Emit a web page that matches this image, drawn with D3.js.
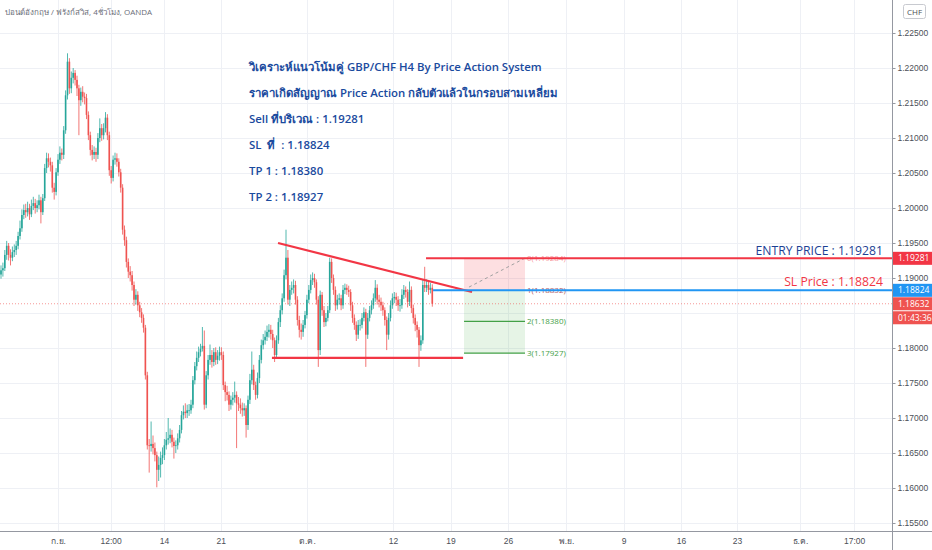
<!DOCTYPE html>
<html>
<head>
<meta charset="utf-8">
<script src="https://cdn.jsdelivr.net/npm/d3@7"></script>
<style>
  body { margin: 0; background: #fff; }
  svg { display: block; font-family: "Open Sans", "Noto Sans", "DejaVu Sans", sans-serif; }
  .grid line { stroke: #eef0f5; stroke-width: 1; }
  .axis path, .axis line { stroke: #9598a1; }
  .axis text { fill: #4c4f57; font-size: 8.5px; }
  .note { fill: #1a4a9e; font-size: 11.4px; font-weight: 600; white-space: pre; }
</style>
</head>
<body>
<div id="chart"></div>
<script>
// GBP/CHF 4h candles (bar 0 = first visible bar)
var firstOpen = 1.1905;
var candleCloses = [
  1.1911,1.1914,1.1933,1.1946,1.1933,1.1929,1.1937,1.1940,1.1946,1.1960,
  1.1971,1.1990,1.1997,1.1994,1.2000,1.1991,1.2003,1.2007,1.2000,1.2004,
  1.2011,1.1994,1.2014,1.2057,1.2071,1.2066,1.2061,1.2029,1.2023,1.2051,
  1.2069,1.2079,1.2076,1.2111,1.2161,1.2209,1.2171,1.2186,1.2193,1.2183,
  1.2171,1.2154,1.2166,1.2159,1.2157,1.2133,1.2104,1.2083,1.2076,1.2080,
  1.2076,1.2100,1.2114,1.2104,1.2114,1.2129,1.2104,1.2054,1.2043,1.2069,
  1.2071,1.2066,1.2051,1.2029,1.1969,1.1954,1.1923,1.1909,1.1904,1.1890,
  1.1869,1.1876,1.1861,1.1851,1.1843,1.1829,1.1761,1.1661,1.1660,1.1663,
  1.1657,1.1647,1.1626,1.1633,1.1643,1.1647,1.1661,1.1669,1.1671,1.1676,
  1.1666,1.1660,1.1661,1.1671,1.1683,1.1704,1.1709,1.1707,1.1711,1.1711,
  1.1719,1.1754,1.1774,1.1786,1.1794,1.1799,1.1803,1.1719,1.1761,1.1783,
  1.1790,1.1780,1.1794,1.1783,1.1789,1.1794,1.1790,1.1747,1.1737,1.1733,
  1.1719,1.1726,1.1729,1.1733,1.1721,1.1719,1.1714,1.1711,1.1714,1.1690,
  1.1726,1.1754,1.1769,1.1747,1.1733,1.1757,1.1783,1.1804,1.1811,1.1816,
  1.1823,1.1826,1.1820,1.1811,1.1790,1.1811,1.1837,1.1854,1.1871,1.1904,
  1.1929,1.1869,1.1883,1.1886,1.1890,1.1869,1.1840,1.1826,1.1823,1.1833,
  1.1847,1.1869,1.1883,1.1897,1.1900,1.1894,1.1869,1.1797,1.1876,1.1854,
  1.1837,1.1843,1.1854,1.1923,1.1900,1.1883,1.1861,1.1869,1.1871,1.1861,
  1.1883,1.1886,1.1883,1.1880,1.1861,1.1843,1.1833,1.1819,1.1833,1.1833,
  1.1843,1.1851,1.1819,1.1843,1.1854,1.1861,1.1871,1.1886,1.1869,1.1866,
  1.1861,1.1854,1.1840,1.1819,1.1843,1.1861,1.1871,1.1873,1.1869,1.1861,
  1.1861,1.1876,1.1883,1.1880,1.1866,1.1883,1.1857,1.1843,1.1833,1.1826,
  1.1804,1.1811,1.1890,1.1886,1.1890,1.1883,1.1886,1.18632
];
var candleHighs = [
  1.1918,1.1922,1.1940,1.1953,1.1950,1.1941,1.1945,1.1948,1.1953,1.1966,
  1.1982,1.1998,1.2005,1.2006,1.2009,1.2006,1.2012,1.2016,1.2013,1.2011,
  1.2019,1.2016,1.2020,1.2063,1.2079,1.2078,1.2072,1.2066,1.2036,1.2057,
  1.2077,1.2088,1.2085,1.2117,1.2168,1.2221,1.2214,1.2195,1.2200,1.2197,
  1.2189,1.2176,1.2172,1.2174,1.2165,1.2163,1.2138,1.2109,1.2090,1.2088,
  1.2086,1.2107,1.2128,1.2120,1.2121,1.2137,1.2134,1.2109,1.2060,1.2075,
  1.2079,1.2078,1.2071,1.2056,1.2034,1.1975,1.1959,1.1928,1.1917,1.1910,
  1.1895,1.1884,1.1881,1.1866,1.1857,1.1848,1.1833,1.1766,1.1670,1.1695,
  1.1675,1.1665,1.1652,1.1645,1.1652,1.1658,1.1670,1.1680,1.1700,1.1685,
  1.1683,1.1672,1.1668,1.1678,1.1690,1.1710,1.1718,1.1721,1.1719,1.1720,
  1.1726,1.1760,1.1780,1.1795,1.1802,1.1806,1.1830,1.1825,1.1767,1.1790,
  1.1805,1.1797,1.1800,1.1801,1.1797,1.1802,1.1801,1.1795,1.1752,1.1746,
  1.1738,1.1732,1.1737,1.1752,1.1738,1.1730,1.1728,1.1722,1.1721,1.1718,
  1.1732,1.1763,1.1795,1.1776,1.1752,1.1765,1.1790,1.1812,1.1820,1.1825,
  1.1832,1.1834,1.1833,1.1826,1.1815,1.1818,1.1843,1.1861,1.1878,1.1912,
  1.1969,1.1940,1.1890,1.1895,1.1898,1.1896,1.1874,1.1846,1.1835,1.1840,
  1.1853,1.1876,1.1890,1.1905,1.1908,1.1906,1.1898,1.1874,1.1882,1.1880,
  1.1860,1.1850,1.1860,1.1929,1.1928,1.1905,1.1888,1.1876,1.1878,1.1876,
  1.1890,1.1892,1.1891,1.1889,1.1884,1.1866,1.1848,1.1838,1.1840,1.1841,
  1.1850,1.1858,1.1856,1.1850,1.1860,1.1868,1.1878,1.1897,1.1891,1.1876,
  1.1872,1.1866,1.1858,1.1845,1.1850,1.1868,1.1878,1.1880,1.1879,1.1874,
  1.1870,1.1884,1.1890,1.1888,1.1884,1.1895,1.1888,1.1862,1.1848,1.1838,
  1.1830,1.1818,1.1898,1.1916,1.1898,1.1896,1.1893,1.1891
];
var candleLows = [
  1.1899,1.1902,1.1910,1.1926,1.1925,1.1918,1.1924,1.1930,1.1933,1.1941,
  1.1955,1.1966,1.1984,1.1986,1.1988,1.1983,1.1987,1.1997,1.1992,1.1994,
  1.1998,1.1978,1.1990,1.2010,1.2050,1.2058,1.2052,1.2022,1.2012,1.2018,
  1.2046,1.2063,1.2068,1.2070,1.2106,1.2155,1.2163,1.2164,1.2178,1.2175,
  1.2160,1.2104,1.2146,1.2151,1.2148,1.2127,1.2097,1.2075,1.2068,1.2070,
  1.2066,1.2070,1.2094,1.2096,1.2098,1.2108,1.2097,1.2046,1.2035,1.2038,
  1.2062,1.2059,1.2045,1.2022,1.1962,1.1946,1.1915,1.1900,1.1895,1.1882,
  1.1860,1.1862,1.1853,1.1844,1.1836,1.1822,1.1755,1.1655,1.1622,1.1652,
  1.1648,1.1638,1.1601,1.1610,1.1615,1.1634,1.1640,1.1655,1.1662,1.1664,
  1.1658,1.1642,1.1650,1.1655,1.1665,1.1678,1.1698,1.1700,1.1700,1.1703,
  1.1706,1.1714,1.1748,1.1768,1.1780,1.1788,1.1795,1.1712,1.1714,1.1755,
  1.1776,1.1772,1.1774,1.1776,1.1777,1.1782,1.1783,1.1740,1.1724,1.1725,
  1.1710,1.1712,1.1718,1.1722,1.1657,1.1710,1.1706,1.1702,1.1703,1.1672,
  1.1683,1.1720,1.1748,1.1740,1.1726,1.1728,1.1750,1.1778,1.1798,1.1805,
  1.1810,1.1815,1.1812,1.1800,1.1780,1.1785,1.1806,1.1830,1.1848,1.1866,
  1.1898,1.1862,1.1860,1.1876,1.1878,1.1862,1.1832,1.1815,1.1812,1.1816,
  1.1828,1.1842,1.1864,1.1878,1.1890,1.1886,1.1862,1.1773,1.1790,1.1846,
  1.1830,1.1831,1.1838,1.1850,1.1893,1.1876,1.1853,1.1855,1.1862,1.1854,
  1.1856,1.1877,1.1876,1.1873,1.1853,1.1836,1.1826,1.1810,1.1813,1.1825,
  1.1828,1.1838,1.1773,1.1813,1.1838,1.1848,1.1856,1.1866,1.1862,1.1858,
  1.1853,1.1846,1.1832,1.1797,1.1812,1.1838,1.1856,1.1864,1.1860,1.1853,
  1.1852,1.1856,1.1870,1.1872,1.1858,1.1860,1.1850,1.1835,1.1824,1.1815,
  1.1773,1.1796,1.1806,1.1880,1.1880,1.1876,1.1878,1.1859
];

// price grid values, and the ones that get a label (1.185 sits under the tags)
var priceTicks = [1.155, 1.16, 1.165, 1.17, 1.175, 1.18, 1.185, 1.19, 1.195, 1.20, 1.205, 1.21, 1.215, 1.22, 1.225];
var priceLabelTicks = [1.155, 1.16, 1.165, 1.17, 1.175, 1.18, 1.19, 1.195, 1.20, 1.205, 1.21, 1.215, 1.22, 1.225];
// time axis ticks (placed in bar units)
var timeTickLabels = ["ก.ย.", "12:00", "14", "21", "ต.ค.", "12", "19", "26", "พ.ย.", "9", "16", "23", "ธ.ค.", "17:00"];
var timeTickBars = [30, 57.7, 85.8, 115.6, 161, 206.3, 236.6, 266.8, 297.4, 327.7, 357.9, 387.4, 420.5, 449];

// trade levels
var entryPrice = 1.19281;
var slPrice = 1.18824;
var lastPrice = 1.18632;
var countdown = "01:43:36";
var fibLevels = [1.19284, 1.18832, 1.18380, 1.17927];
var fibNames = ["0", "1", "2", "3"];

// drawings: [bar, price] end points
var triangleTop = [[145.8, 1.1950], [247.9, 1.1880]];
var triangleBottom = [[142.6, 1.1786], [243.2, 1.1786]];
var fibBars = [243.7, 275.8];
var fibTrend = [[246.3, 1.1887], [275.8, 1.19284]];
var entryStartBar = 223.7;
var slStartBar = 227.4;

var titleText = "ปอนด์อังกฤษ / ฟรังก์สวิส, 4ชั่วโมง, OANDA";
var noteLines = [
  "วิเคราะห์แนวโน้มคู่ GBP/CHF H4 By Price Action System",
  "ราคาเกิดสัญญาณ Price Action กลับตัวแล้วในกรอบสามเหลี่ยม",
  "Sell ที่บริเวณ : 1.19281",
  "SL  ที่  : 1.18824",
  "TP 1 : 1.18380",
  "TP 2 : 1.18927"
];

var width = 932, height = 550,
    plotW = 892, plotH = 531;

var svg = d3.select("#chart").append("svg")
    .attr("width", width)
    .attr("height", height);

// scales
var x = d3.scaleLinear().domain([0, 469]).range([1, 1 + 1.9 * 469]);
var y = d3.scaleLinear().domain([1.155, 1.225]).range([523, 33]);

// grid
var grid = svg.append("g").attr("class", "grid");
grid.selectAll(".h").data(priceTicks).enter().append("line")
    .attr("x1", 0).attr("x2", plotW)
    .attr("y1", function(d) { return Math.round(y(d)) + 0.5; })
    .attr("y2", function(d) { return Math.round(y(d)) + 0.5; });
grid.selectAll(".v").data(timeTickBars).enter().append("line")
    .attr("y1", 0).attr("y2", plotH)
    .attr("x1", function(d) { return Math.round(x(d)) + 0.5; })
    .attr("x2", function(d) { return Math.round(x(d)) + 0.5; });

// build candle table
var candles = candleCloses.map(function(c, i) {
  return {
    i: i,
    o: i == 0 ? firstOpen : candleCloses[i - 1],
    h: candleHighs[i],
    l: candleLows[i],
    c: c
  };
});
var upColor = "#26a69a", downColor = "#ef5350";

// fib / risk box behind candles
var fib = svg.append("g");
fib.append("rect")
    .attr("x", x(fibBars[0])).attr("width", x(fibBars[1]) - x(fibBars[0]))
    .attr("y", y(fibLevels[0])).attr("height", y(fibLevels[1]) - y(fibLevels[0]))
    .attr("fill", "rgba(242,54,69,0.16)");
fib.append("rect")
    .attr("x", x(fibBars[0])).attr("width", x(fibBars[1]) - x(fibBars[0]))
    .attr("y", y(fibLevels[1])).attr("height", y(fibLevels[3]) - y(fibLevels[1]))
    .attr("fill", "rgba(76,175,80,0.14)");
fib.selectAll(".fl").data(fibLevels.slice(2)).enter().append("line")
    .attr("x1", x(fibBars[0])).attr("x2", x(fibBars[1]))
    .attr("y1", function(d) { return y(d); }).attr("y2", function(d) { return y(d); })
    .attr("stroke", "#43a047").attr("stroke-width", 1.2);
fib.append("line")
    .attr("x1", x(fibTrend[0][0])).attr("y1", y(fibTrend[0][1]))
    .attr("x2", x(fibTrend[1][0])).attr("y2", y(fibTrend[1][1]))
    .attr("stroke", "#a0a0a0").attr("stroke-width", 1).attr("stroke-dasharray", "3,3");

// current price dotted line
svg.append("line")
    .attr("x1", 0).attr("x2", plotW)
    .attr("y1", y(lastPrice)).attr("y2", y(lastPrice))
    .attr("stroke", "#ef5350").attr("stroke-opacity", 0.6)
    .attr("stroke-dasharray", "1,2");

// candles
var cg = svg.append("g");
cg.selectAll(".wick").data(candles).enter().append("line")
    .attr("x1", function(d) { return x(d.i); })
    .attr("x2", function(d) { return x(d.i); })
    .attr("y1", function(d) { return y(d.h); })
    .attr("y2", function(d) { return y(d.l); })
    .attr("stroke", function(d) { return d.c >= d.o ? upColor : downColor; })
    .attr("stroke-width", 0.8);
cg.selectAll(".body").data(candles).enter().append("rect")
    .attr("x", function(d) { return x(d.i) - 0.8; })
    .attr("width", 1.6)
    .attr("y", function(d) { return y(Math.max(d.o, d.c)); })
    .attr("height", function(d) { return Math.max(0.8, Math.abs(y(d.o) - y(d.c))); })
    .attr("fill", function(d) { return d.c >= d.o ? upColor : downColor; });

// triangle lines
var line = d3.line()
    .x(function(d) { return x(d[0]); })
    .y(function(d) { return y(d[1]); });
svg.selectAll(".tri").data([triangleTop, triangleBottom]).enter().append("path")
    .attr("d", line)
    .attr("fill", "none")
    .attr("stroke", "#f23645")
    .attr("stroke-width", 2.2);

// entry and stop lines
svg.append("line")
    .attr("x1", x(entryStartBar)).attr("x2", plotW)
    .attr("y1", y(entryPrice)).attr("y2", y(entryPrice))
    .attr("stroke", "#f23645").attr("stroke-width", 2);
svg.append("line")
    .attr("x1", x(slStartBar)).attr("x2", plotW)
    .attr("y1", y(slPrice)).attr("y2", y(slPrice))
    .attr("stroke", "#2196f3").attr("stroke-width", 2);

// fib labels
var fibColors = ["rgba(242,54,69,0.55)", "#b45a62", "#43a047", "#43a047"];
fib.selectAll(".ft").data(fibLevels).enter().append("text")
    .attr("x", x(fibBars[1]) + 2)
    .attr("y", function(d) { return y(d) + 3; })
    .attr("font-size", "8px")
    .attr("fill", function(d, i) { return fibColors[i]; })
    .text(function(d, i) { return fibNames[i] + "(" + d3.format(".5f")(d) + ")"; });

// right-side labels
svg.append("text")
    .attr("x", 883).attr("y", y(entryPrice) - 3)
    .attr("text-anchor", "end")
    .attr("font-size", "12.2px")
    .attr("font-weight", 500)
    .attr("fill", "#1c3f94")
    .text("ENTRY PRICE : " + d3.format(".5f")(entryPrice));
svg.append("text")
    .attr("x", 883).attr("y", y(slPrice) - 4)
    .attr("text-anchor", "end")
    .attr("font-size", "12.2px")
    .attr("font-weight", 500)
    .attr("fill", "#f23645")
    .text("SL Price : " + d3.format(".5f")(slPrice));

// note text block
svg.selectAll(".note").data(noteLines).enter().append("text")
    .attr("class", "note")
    .attr("x", 249)
    .attr("y", function(d, i) { return 70.5 + i * 26; })
    .text(function(d) { return d; });

// title
svg.append("text")
    .attr("x", 5).attr("y", 15)
    .attr("font-size", "8px")
    .attr("fill", "#6a6d78")
    .text(titleText);

// right price scale
svg.append("rect")
    .attr("x", plotW).attr("y", 0)
    .attr("width", width - plotW).attr("height", height)
    .attr("fill", "#fff");
var yAxis = d3.axisRight(y)
    .tickValues(priceLabelTicks)
    .tickFormat(d3.format(".5f"))
    .tickSize(3)
    .tickPadding(2);
svg.append("g")
    .attr("class", "y axis")
    .attr("transform", "translate(" + (plotW + 0.5) + ",0)")
    .call(yAxis)
    .call(function(g) { g.select(".domain").remove(); });
svg.append("line")
    .attr("x1", plotW + 0.5).attr("x2", plotW + 0.5)
    .attr("y1", 0).attr("y2", height)
    .attr("stroke", "#9598a1");

// price tags on the scale
var tags = [
  { v: entryPrice, t: d3.format(".5f")(entryPrice), c: "#f23645", dy: 0 },
  { v: slPrice, t: d3.format(".5f")(slPrice), c: "#2196f3", dy: 0 },
  { v: lastPrice, t: d3.format(".5f")(lastPrice), c: "#ef5350", dy: 0 },
  { v: lastPrice, t: countdown, c: "#ef5350", dy: 14 }
];
var tg = svg.selectAll(".tag").data(tags).enter().append("g");
tg.append("rect")
    .attr("x", plotW + 1).attr("width", width - plotW - 1)
    .attr("y", function(d) { return y(d.v) - 6.5 + d.dy; })
    .attr("height", 13)
    .attr("fill", function(d) { return d.c; });
tg.append("text")
    .attr("x", plotW + 6)
    .attr("y", function(d) { return y(d.v) + 3 + d.dy; })
    .attr("font-size", "8.5px")
    .attr("fill", "#fff")
    .text(function(d) { return d.t; });

// currency box
svg.append("rect")
    .attr("x", 903.5).attr("y", 4.5).attr("width", 22).attr("height", 14)
    .attr("rx", 2).attr("fill", "#fff").attr("stroke", "#c8cad0");
svg.append("text")
    .attr("x", 914.5).attr("y", 14.5)
    .attr("text-anchor", "middle")
    .attr("font-size", "8px")
    .attr("fill", "#4c4f57")
    .text("CHF");

// time axis
svg.append("rect")
    .attr("x", 0).attr("y", plotH)
    .attr("width", plotW).attr("height", height - plotH)
    .attr("fill", "#fff");
var xAxis = d3.axisBottom(x)
    .tickValues(timeTickBars)
    .tickFormat(function(d, i) { return timeTickLabels[i]; })
    .tickSize(0)
    .tickPadding(6);
svg.append("g")
    .attr("class", "x axis")
    .attr("transform", "translate(0," + (plotH + 0.5) + ")")
    .call(xAxis)
    .call(function(g) { g.select(".domain").remove(); });
svg.append("line")
    .attr("x1", 0).attr("x2", width)
    .attr("y1", plotH + 0.5).attr("y2", plotH + 0.5)
    .attr("stroke", "#9598a1");
</script>
</body>
</html>
